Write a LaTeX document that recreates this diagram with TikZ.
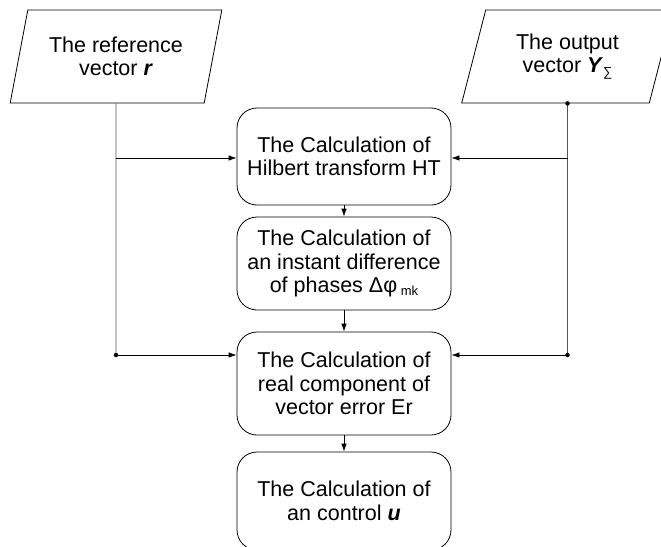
\documentclass[tikz,border=0pt]{standalone}
\usepackage{fontspec}
\setmainfont{Liberation Sans}
\usetikzlibrary{arrows.meta,shapes.geometric}
\definecolor{wiregray}{HTML}{555555}

\begin{document}
\begin{tikzpicture}[
    x=1pt,y=-1pt,
    every node/.style={font=\fontsize{21.5}{23.5}\selectfont},
    calc/.style={draw,line width=.8pt,rounded corners=20pt,
                 minimum width=214,align=center},
    data/.style={draw,line width=.8pt,trapezium,trapezium left angle=73,
                 trapezium right angle=107,trapezium stretches=true,
                 minimum width=212,minimum height=93,align=center},
    msg/.style={-{Latex[length=8pt,width=5.5pt]},line width=.8pt},
    wire/.style={line width=.8pt,wiregray},
    dot/.style={circle,fill,inner sep=0pt,minimum size=4.5pt}
  ]
    \useasboundingbox (0,0) rectangle (661,546);
    \node[data] (ref) at (116,56.5) {The reference\\vector \textbf{\textit{r}}};
    \node[data] (out) at (567.5,56.5) {The output\\vector \textbf{\textit{Y}}\raisebox{-.35ex}{\fontsize{13}{13}\selectfont ∑}};

    \node[calc,minimum height=97] (ht) at (344,156.5) {The Calculation of\\Hilbert transform HT};
    \node[calc,minimum height=93] (dphi) at (344,263.5) {The Calculation of\\an instant difference\\of phases Δφ\,{\fontsize{13}{13}\selectfont\raisebox{-.45ex}{mk}}};
    \node[calc,minimum height=103] (er) at (344,383.5) {The Calculation of\\real component of\\vector error Er};
    \node[calc,minimum height=98] (ctrl) at (344,501) {The Calculation of\\an control \textbf{\textit{u}}};

    \coordinate (lj) at (116,355);
    \coordinate (rj) at (567.5,355);
    \draw[wire] (ref.south) -- (lj);
    \draw[wire] (out.south) -- (rj);
    \node[dot] at (out.south) {};
    \node[dot] at (lj) {};
    \node[dot] at (rj) {};

    \draw[msg] (ref.south |- 0,158) -- (ht.west |- 0,158);
    \draw[msg] (out.south |- 0,158) -- (ht.east |- 0,158);
    \draw[msg] (lj) -- (lj -| er.west);
    \draw[msg] (rj) -- (rj -| er.east);

    \draw[msg] (ht) -- (dphi);
    \draw[msg] (dphi) -- (er);
    \draw[msg] (er) -- (ctrl);
\end{tikzpicture}
\end{document}
